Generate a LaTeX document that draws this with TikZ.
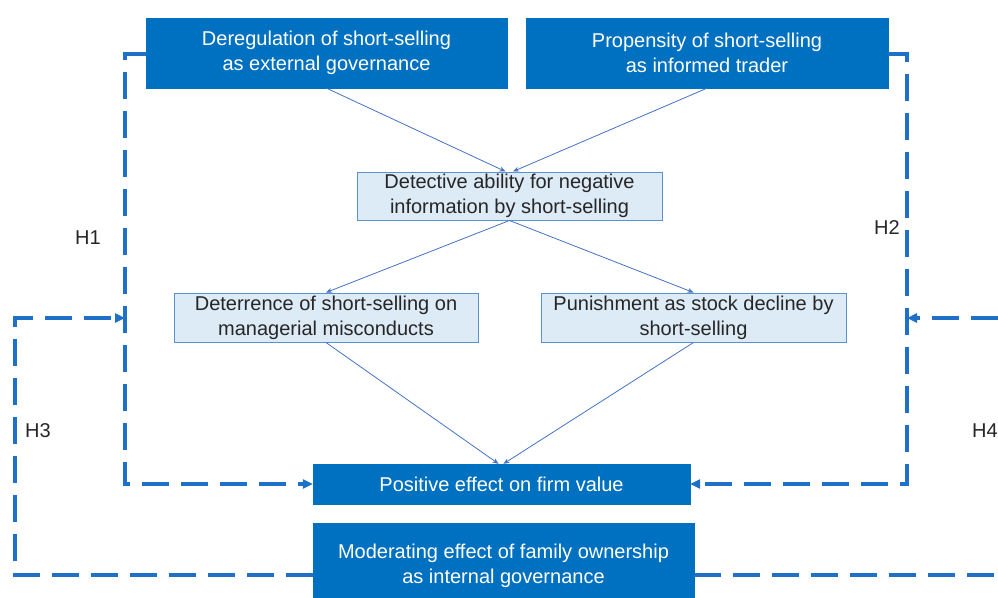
\documentclass[tikz,border=0pt]{standalone}
\usepackage{fontspec}
\setmainfont{Liberation Sans}
\usetikzlibrary{arrows.meta}
\definecolor{govblue}{RGB}{0,112,192}
\definecolor{mechfill}{RGB}{221,235,247}
\definecolor{mechedge}{RGB}{91,145,205}
\definecolor{flowblue}{RGB}{68,114,196}
\definecolor{hypblue}{RGB}{31,112,200}
\definecolor{txtgray}{RGB}{38,38,38}

\begin{document}
\begin{tikzpicture}[x=1pt, y=-1pt,
  every node/.style={font=\fontsize{20}{25}\selectfont, align=center, inner sep=0pt, text=txtgray},
  govbox/.style={fill=govblue, draw=govblue, text=white},
  mechbox/.style={fill=mechfill, draw=mechedge, line width=1pt},
  flow/.style={draw=flowblue, line width=0.8pt, -{Stealth[length=6pt,width=5pt]}},
  hyp/.style={draw=hypblue, line width=3.2pt, dash pattern=on 27pt off 12pt, -{Triangle[length=10pt,width=9pt]}}]
  \clip (0,0) rectangle (998,597);
  \node (Dr) [govbox, minimum width=361pt, minimum height=70pt] at (326.5,53) {Deregulation of short-selling\\as external governance};
  \node (Pr) [govbox, minimum width=362pt, minimum height=70pt] at (707,53) {Propensity of short-selling\\as informed trader};
  \node (Dt) [mechbox, minimum width=305pt, minimum height=48pt] at (509.5,196) {Detective ability for negative\\information by short-selling};
  \node (Dc) [mechbox, minimum width=304pt, minimum height=49pt] at (326,317.5) {Deterrence of short-selling on\\managerial misconducts};
  \node (Pn) [mechbox, minimum width=305pt, minimum height=49pt] at (693.5,317.5) {Punishment as stock decline by\\short-selling};
  \node (V) [govbox, minimum width=377pt, minimum height=40pt] at (501.5,484) {Positive effect on firm value};
  \node (F) [govbox, minimum width=381pt, minimum height=86pt] at (503.5,566) {Moderating effect of family ownership\\as internal governance};
  \node (H1) at (88,238) {H1};
  \node (H2) at (887,228) {H2};
  \node (H3) at (38,431) {H3};
  \node (H4) at (985,431) {H4};
  \coordinate (l1) at (125,484);
  \coordinate (l2) at (907,484);
  \coordinate (m1) at (125,318);
  \coordinate (m2) at (907,318);
  \coordinate (o1) at (15,318);
  \coordinate (o2) at (1010,318);
  \draw[flow] (Dr.south) to ([xshift=-4pt]Dt.north);
  \draw[flow] (Pr.south) to ([xshift=3.5pt]Dt.north);
  \draw[flow] (Dt.south) to (Dc.north);
  \draw[flow] (Dt.south) to (Pn.north);
  \draw[flow] (Dc.south) to ([xshift=-3pt]V.north);
  \draw[flow] (Pn.south) to ([xshift=2pt]V.north);
  \draw[hyp] ([yshift=-1pt]Dr.west) -| (l1) -- (V.west);
  \draw[hyp] ([yshift=-1pt]Pr.east) -| (l2) -- (V.east);
  \draw[hyp] ([yshift=-9pt]F.west) -| (o1) -- (m1);
  \draw[hyp] ([yshift=-9pt]F.east) -| (o2) -- (m2);
\end{tikzpicture}
\end{document}
